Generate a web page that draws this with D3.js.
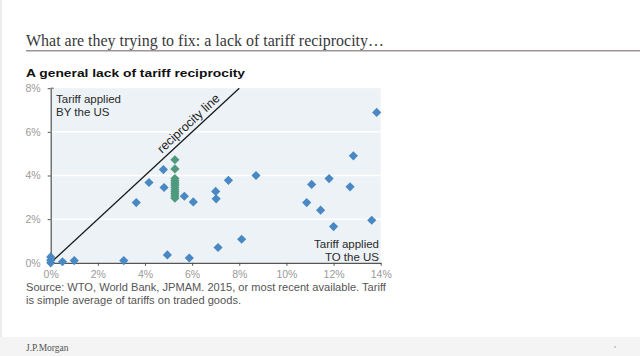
<!DOCTYPE html>
<html>
<head>
<meta charset="utf-8">
<script src="https://cdn.jsdelivr.net/npm/d3@7"></script>
<style>
  html, body { margin: 0; padding: 0; background: #fff; }
  svg { display: block; }
</style>
</head>
<body>
<svg id="chart" width="640" height="356"></svg>
<script>
// ---- Data (percent) ----
// x: tariff applied TO the US, y: tariff applied BY the US
const blueX = [0, 0, 0, 0.5, 1.0, 3.1, 3.63, 4.17, 4.78, 4.81, 4.95, 5.67, 6.05, 5.88, 7.0, 7.02, 7.1, 7.54, 8.1, 8.71, 10.86, 11.07, 11.45, 11.81, 12.0, 12.7, 12.84, 13.62, 13.83];
const blueY = [0, 0.12, 0.27, 0.05, 0.1, 0.1, 2.76, 3.68, 4.27, 3.45, 0.36, 3.05, 2.79, 0.22, 3.27, 2.93, 0.7, 3.78, 1.08, 4.0, 2.76, 3.59, 2.41, 3.86, 1.66, 3.48, 4.9, 1.95, 6.89];
const greenX = [5.27, 5.27, 5.27, 5.27, 5.27, 5.27, 5.27, 5.27, 5.27, 5.27, 5.27, 5.27];
const greenY = [4.72, 4.3, 3.86, 3.76, 3.66, 3.56, 3.46, 3.36, 3.26, 3.16, 3.06, 2.96];
const xTicks = [0, 2, 4, 6, 8, 10, 12, 14];
const yTicks = [0, 2, 4, 6, 8];
const reciprocity = [0, 8];

const titleText = "What are they trying to fix: a lack of tariff reciprocity\u2026";
const subtitleText = "A general lack of tariff reciprocity";
const sourceLines = ["Source: WTO, World Bank, JPMAM. 2015, or most recent available.  Tariff",
                     "is simple average of tariffs on traded goods."];

const svg = d3.select("#chart");

// left edge strip & footer
svg.append("rect").attr("x", 0).attr("y", 0).attr("width", 2).attr("height", 356).attr("fill", "#ececec");
svg.append("rect").attr("x", 0).attr("y", 337).attr("width", 640).attr("height", 19).attr("fill", "#f4f4f4");
svg.append("text").attr("x", 26).attr("y", 351)
  .attr("font-family", "Liberation Serif, serif").attr("font-size", 9.5).attr("fill", "#555")
  .text("J.P.Morgan");
svg.append("rect").attr("x", 614).attr("y", 346).attr("width", 2).attr("height", 2).attr("fill", "#ccc");

// Title
svg.append("text").attr("x", 26).attr("y", 45.7)
  .attr("font-family", "Liberation Serif, Times New Roman, serif").attr("font-size", 16.5).attr("fill", "#383838")
  .attr("textLength", 358).attr("lengthAdjust", "spacingAndGlyphs")
  .text(titleText);
svg.append("line").attr("x1", 26).attr("x2", 640).attr("y1", 50.8).attr("y2", 50.8)
  .attr("stroke", "#9e9393").attr("stroke-width", 1.6);

// Subtitle
svg.append("text").attr("x", 26).attr("y", 77.3)
  .attr("font-family", "Liberation Sans, Arial, sans-serif").attr("font-weight", "bold")
  .attr("font-size", 11.5).attr("fill", "#111")
  .attr("textLength", 219).attr("lengthAdjust", "spacingAndGlyphs")
  .text(subtitleText);

// Scales
const x = d3.scaleLinear().domain([0, 14]).range([50.7, 380.7]);
const y = d3.scaleLinear().domain([0, 8]).range([262.8, 88.2]);

// Plot background
svg.append("rect").attr("x", x(0)).attr("y", y(8)).attr("width", x(14) - x(0)).attr("height", y(0) - y(8))
  .attr("fill", "#edf2f6");

// Gridlines
svg.append("g").selectAll("line").data(yTicks.filter(d => d > 0 && d < 8)).join("line")
  .attr("x1", x(0)).attr("x2", x(14)).attr("y1", d => y(d)).attr("y2", d => y(d))
  .attr("stroke", "#fff").attr("stroke-width", 1.5);

// Axes
const xAxis = svg.append("g").attr("transform", `translate(0,${y(0)})`)
  .call(d3.axisBottom(x).tickValues(xTicks).tickFormat(d => d + "%").tickSize(3).tickSizeOuter(0));
const yAxis = svg.append("g").attr("transform", `translate(${x(0)},0)`)
  .call(d3.axisLeft(y).tickValues(yTicks).tickFormat(d => d + "%").tickSize(3).tickSizeOuter(0));
[xAxis, yAxis].forEach(a => {
  a.select(".domain").attr("stroke", "#555").attr("stroke-width", 1.2);
  a.selectAll(".tick line").attr("stroke", "#555");
  a.selectAll(".tick text").attr("fill", "#9a9a9a").attr("font-size", 10.5)
    .attr("font-family", "Liberation Sans, Arial, sans-serif");
});
xAxis.selectAll(".tick text").attr("dy", null).attr("y", 15.5);
yAxis.selectAll(".tick text").attr("x", -10);
// small tick at top of y axis pointing right
svg.append("line").attr("x1", x(0)).attr("x2", x(0) + 3).attr("y1", y(8)).attr("y2", y(8)).attr("stroke", "#555");

// Reciprocity line
svg.append("line").attr("x1", x(reciprocity[0])).attr("y1", y(reciprocity[0]))
  .attr("x2", x(reciprocity[1])).attr("y2", y(reciprocity[1]))
  .attr("stroke", "#1a1a1a").attr("stroke-width", 1.3);
const ang = Math.atan2(y(0) - y(8), x(8) - x(0)) * 180 / Math.PI;
const lx = x(4.85), ly = y(4.85);
svg.append("text")
  .attr("transform", `translate(${lx},${ly}) rotate(${-ang}) translate(0,-4.5)`)
  .attr("font-family", "Liberation Sans, Arial, sans-serif").attr("font-size", 12.5).attr("fill", "#222")
  .text("reciprocity line");

// Annotations
const ann = svg.append("g").attr("font-family", "Liberation Sans, Arial, sans-serif")
  .attr("font-size", 11.5).attr("fill", "#2a2a2a");
ann.append("text").attr("x", 56).attr("y", 102.7).text("Tariff applied");
ann.append("text").attr("x", 56).attr("y", 115.7).text("BY the US");
ann.append("text").attr("x", 379).attr("y", 248.3).attr("text-anchor", "end").text("Tariff applied");
ann.append("text").attr("x", 379).attr("y", 260.5).attr("text-anchor", "end").text("TO the US");

// Points
const diamond = d3.symbol().type(d3.symbolSquare).size(42);
const blue = blueX.map((v, i) => [v, blueY[i]]);
const green = greenX.map((v, i) => [v, greenY[i]]);
svg.append("g").selectAll("path").data(blue).join("path")
  .attr("d", diamond)
  .attr("transform", d => `translate(${x(d[0])},${y(d[1])}) rotate(45)`)
  .attr("fill", "#4a88c4");
svg.append("g").selectAll("path").data(green).join("path")
  .attr("d", diamond)
  .attr("transform", d => `translate(${x(d[0])},${y(d[1])}) rotate(45)`)
  .attr("fill", "#4f9a7e");

// Source
const src = svg.append("g").attr("font-family", "Liberation Sans, Arial, sans-serif")
  .attr("font-size", 11.1).attr("fill", "#555");
sourceLines.forEach((t, i) => {
  src.append("text").attr("x", 26).attr("y", 290.5 + i * 13).text(t);
});
</script>
</body>
</html>
